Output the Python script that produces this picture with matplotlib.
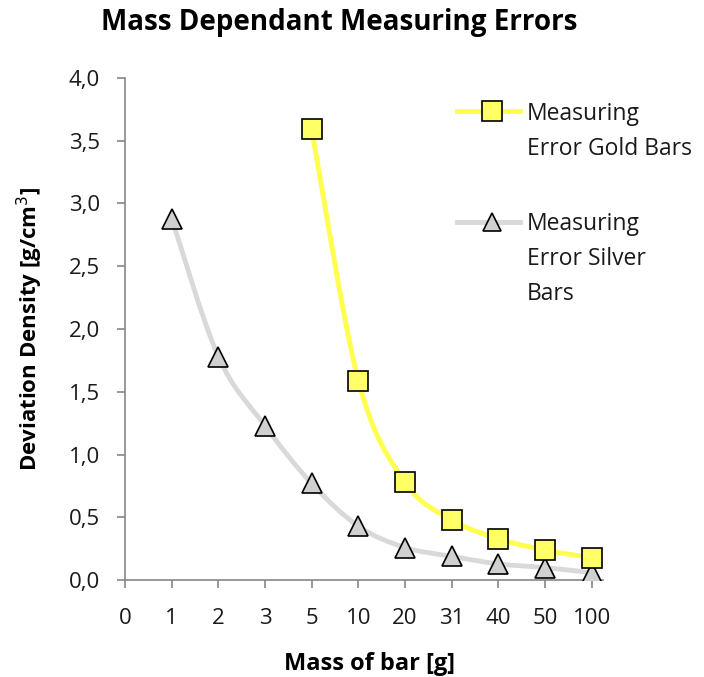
import numpy as np
import matplotlib.pyplot as plt
from matplotlib.path import Path
from matplotlib.patches import PathPatch

plt.rcParams['font.family'] = ['Open Sans', 'DejaVu Sans']

# category labels on the x axis (equally spaced)
mass_labels = ['0', '1', '2', '3', '5', '10', '20', '31', '40', '50', '100']

silver_mass = ['1', '2', '3', '5', '10', '20', '31', '40', '50', '100']
silver_err = [2.88, 1.78, 1.23, 0.77, 0.43, 0.26, 0.19, 0.13, 0.10, 0.06]

gold_mass = ['5', '10', '20', '31', '40', '50', '100']
gold_err = [3.59, 1.59, 0.78, 0.48, 0.33, 0.24, 0.18]

gold_label = 'Measuring\nError Gold Bars'
silver_label = 'Measuring\nError Silver\nBars'

GOLD_LINE, GOLD_FACE = '#FFFF4D', '#FFFF66'
SILVER_LINE, SILVER_FACE = '#D9D9D9', '#D0D0D0'


def smooth_path(x, y, t=1/6):
    # Excel-like smoothed line: cubic bezier through the points
    x = np.asarray(x, float)
    y = np.asarray(y, float)
    verts = [(x[0], y[0])]
    codes = [Path.MOVETO]
    n = len(x)
    for i in range(n - 1):
        p0 = (x[i - 1], y[i - 1]) if i > 0 else (x[i], y[i])
        p3 = (x[i + 2], y[i + 2]) if i + 2 < n else (x[i + 1], y[i + 1])
        c1 = (x[i] + (x[i + 1] - p0[0]) * t, y[i] + (y[i + 1] - p0[1]) * t)
        c2 = (x[i + 1] - (p3[0] - x[i]) * t, y[i + 1] - (p3[1] - y[i]) * t)
        verts += [c1, c2, (x[i + 1], y[i + 1])]
        codes += [Path.CURVE4] * 3
    return Path(verts, codes)


fig = plt.figure(figsize=(7.04, 6.77), dpi=100)
ax = fig.add_axes([0.1776, 0.143, 0.857 - 0.1776, 0.885 - 0.143])

sx = [mass_labels.index(m) for m in silver_mass]
gx = [mass_labels.index(m) for m in gold_mass]

ax.add_patch(PathPatch(smooth_path(sx, silver_err), fc='none', ec=SILVER_LINE, lw=3.5, zorder=2))
ax.add_patch(PathPatch(smooth_path(gx, gold_err), fc='none', ec=GOLD_LINE, lw=3.5, zorder=2))

ax.plot(sx, silver_err, ls='none', marker='^', ms=15, mfc=SILVER_FACE, mec='black', mew=1.2, zorder=3)
ax.plot(gx, gold_err, ls='none', marker='s', ms=14, mfc=GOLD_FACE, mec='black', mew=1.2, zorder=4)

# legend, drawn by hand so the wrapped labels get Excel's spacing
lx = [0.6935, 0.767, 0.825]
ax.plot(lx, [0.934] * 3, transform=ax.transAxes, color=GOLD_LINE, lw=3.5, marker='s', ms=14,
        markevery=[1], mfc=GOLD_FACE, mec='black', mew=1.2, clip_on=False)
ax.plot(lx, [0.713] * 3, transform=ax.transAxes, color=SILVER_LINE, lw=3.5, marker='^', ms=13,
        markevery=[1], mfc=SILVER_FACE, mec='black', mew=1.2, clip_on=False)
# va='baseline' pins the last line of a multi-line text
ax.text(0.840, 0.847, gold_label, transform=ax.transAxes, fontsize=16.5, va='baseline',
        linespacing=1.62, color='#1a1a1a')
ax.text(0.840, 0.558, silver_label, transform=ax.transAxes, fontsize=16.5, va='baseline',
        linespacing=1.62, color='#1a1a1a')

ax.set_xlim(0, 10.25)
ax.set_ylim(0, 4.0)
ax.set_xticks(range(len(mass_labels)))
ax.set_xticklabels(mass_labels)
yt = np.arange(0, 4.01, 0.5)
ax.set_yticks(yt)
ax.set_yticklabels([f'{v:.1f}'.replace('.', ',') for v in yt])

for s in ['top', 'right']:
    ax.spines[s].set_visible(False)
for s in ['left', 'bottom']:
    ax.spines[s].set_color('#868686')
    ax.spines[s].set_linewidth(1.2)
ax.tick_params(axis='both', colors='#868686', length=6, width=1.2, direction='out',
               labelsize=16, labelcolor='#1a1a1a')
ax.tick_params(axis='x', pad=14)
ax.tick_params(axis='y', pad=12)

ax.set_xlabel('Mass of bar [g]', fontsize=17, fontweight='bold')
ax.xaxis.set_label_coords(0.512, -0.143)
ax.set_ylabel('Deviation Density [g/cm$^3$]', fontsize=16, fontweight='bold')
ax.yaxis.set_label_coords(-0.198, 0.5)
ax.yaxis.label.set_va('center')
fig.text(0.482, 0.967, 'Mass Dependant Measuring Errors', fontsize=20, fontweight='bold',
         ha='center', va='center')

fig.savefig('out.png', dpi=100)
